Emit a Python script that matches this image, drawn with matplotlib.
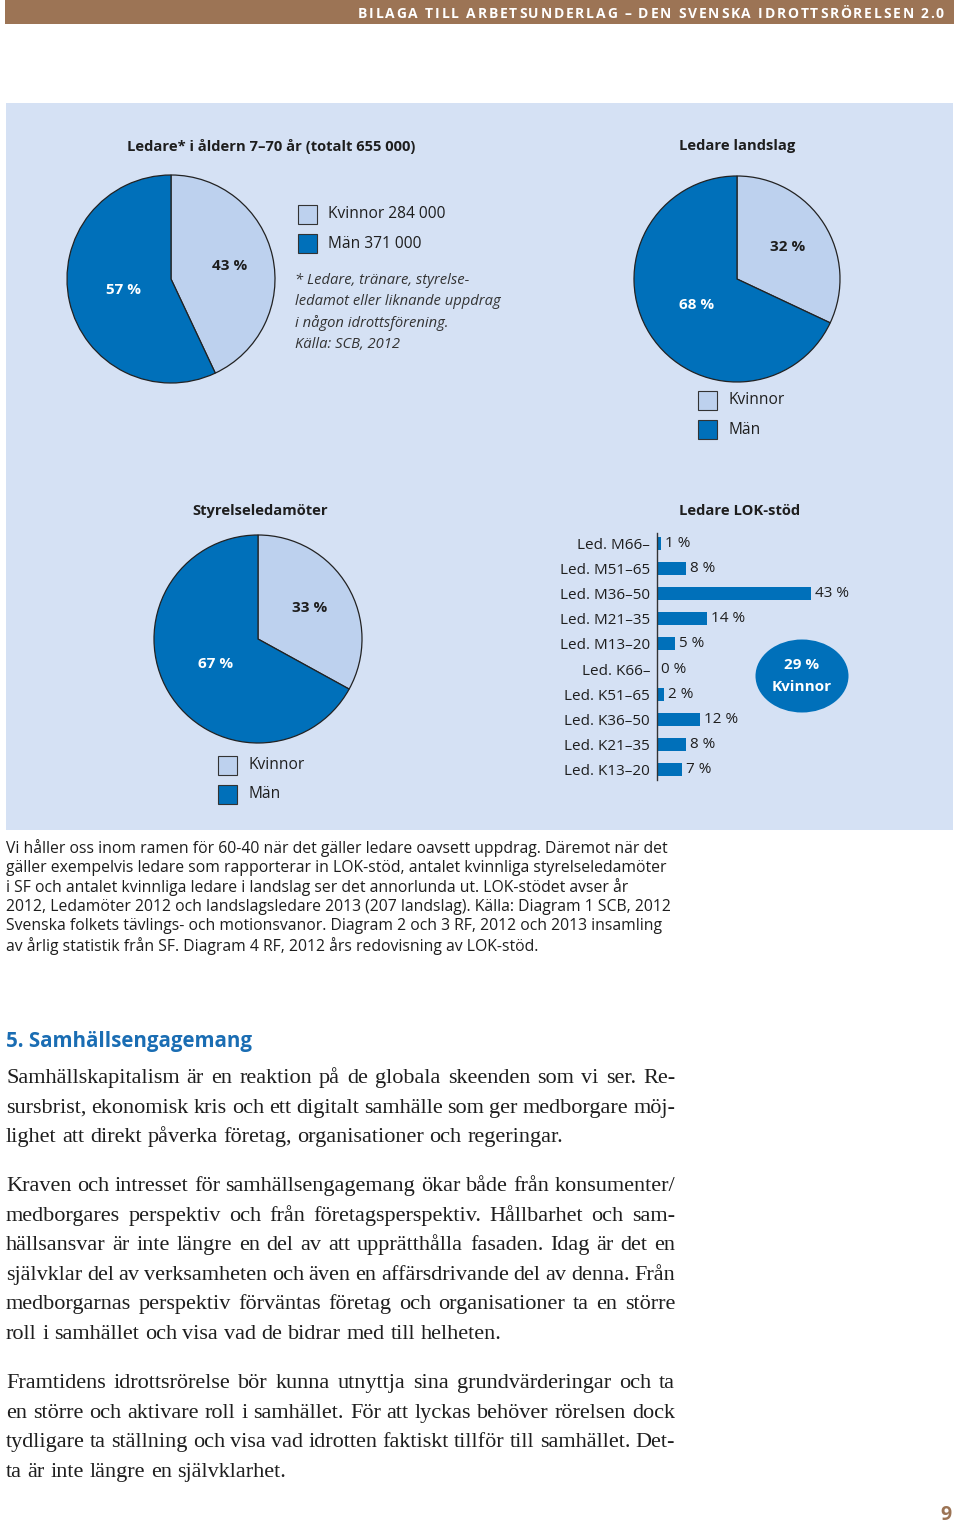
import matplotlib
matplotlib.use("Agg")
import matplotlib.pyplot as plt
from matplotlib.patches import Rectangle, Ellipse
import numpy as np

W, H = 960, 1526
DARK = "#0070BA"
LIGHT = "#BDD1EE"
PANEL = "#D5E1F4"
BROWN = "#9C7455"
INK = "#1e1e1e"
SANS = "Open Sans"
SERIF = "Liberation Serif"

# %%
# Data read from the page
# -----------------------

gender = ["Kvinnor", "Män"]
leaders_all = [43, 57]          # Ledare 7-70 år
leaders_all_counts = ["284 000", "371 000"]
leaders_national = [32, 68]     # Ledare landslag
board_members = [33, 67]        # Styrelseledamöter

lok_labels = ["Led. M66–", "Led. M51–65", "Led. M36–50", "Led. M21–35", "Led. M13–20",
              "Led. K66–", "Led. K51–65", "Led. K36–50", "Led. K21–35", "Led. K13–20"]
lok_values = [1, 8, 43, 14, 5, 0, 2, 12, 8, 7]

header = "BILAGA TILL ARBETSUNDERLAG – DEN SVENSKA IDROTTSRÖRELSEN 2.0"
note_lines = ["* Ledare, tränare, styrelse-", "ledamot eller liknande uppdrag",
              "i någon idrottsförening.", "Källa: SCB, 2012"]
caption_lines = [
    "Vi håller oss inom ramen för 60-40 när det gäller ledare oavsett uppdrag. Däremot när det",
    "gäller exempelvis ledare som rapporterar in LOK-stöd, antalet kvinnliga styrelseledamöter",
    "i SF och antalet kvinnliga ledare i landslag ser det annorlunda ut. LOK-stödet avser år",
    "2012, Ledamöter 2012 och landslagsledare 2013 (207 landslag). Källa: Diagram 1 SCB, 2012",
    "Svenska folkets tävlings- och motionsvanor. Diagram 2 och 3 RF, 2012 och 2013 insamling",
    "av årlig statistik från SF. Diagram 4 RF, 2012 års redovisning av LOK-stöd.",
]
heading = "5. Samhällsengagemang"
paragraphs = [
    ["Samhällskapitalism är en reaktion på de globala skeenden som vi ser. Re-",
     "sursbrist, ekonomisk kris och ett digitalt samhälle som ger medborgare möj-",
     "lighet att direkt påverka företag, organisationer och regeringar."],
    ["Kraven och intresset för samhällsengagemang ökar både från konsumenter/",
     "medborgares perspektiv och från företagsperspektiv. Hållbarhet och sam-",
     "hällsansvar är inte längre en del av att upprätthålla fasaden. Idag är det en",
     "självklar del av verksamheten och även en affärsdrivande del av denna. Från",
     "medborgarnas perspektiv förväntas företag och organisationer ta en större",
     "roll i samhället och visa vad de bidrar med till helheten."],
    ["Framtidens idrottsrörelse bör kunna utnyttja sina grundvärderingar och ta",
     "en större och aktivare roll i samhället. För att lyckas behöver rörelsen dock",
     "tydligare ta ställning och visa vad idrotten faktiskt tillför till samhället. Det-",
     "ta är inte längre en självklarhet."],
]

# %%
# Page canvas in pixel coordinates
# --------------------------------

fig = plt.figure(figsize=(W / 100, H / 100), dpi=100)
fig.patch.set_facecolor("white")
bg = fig.add_axes([0, 0, 1, 1])
bg.set_xlim(0, W)
bg.set_ylim(H, 0)
bg.axis("off")
renderer = fig.canvas.get_renderer()


def px_axes(x, y, w, h):
    return fig.add_axes([x / W, 1 - (y + h) / H, w / W, h / H], facecolor="none")


def text_width(t):
    return t.get_window_extent(renderer).width


# header bar with letter-spaced title
bg.add_patch(Rectangle((5, 0), 949, 24, color=BROWN, lw=0))
chars = [bg.text(0, 18, c, color="white", fontsize=10, fontweight="bold",
                 family=SANS, va="baseline", ha="left") for c in header]
widths = [text_width(c) if c.get_text() != " " else 3.5 for c in chars]
tracking = 1.8
x = 944 - (sum(widths) + tracking * (len(chars) - 1))
for c, w in zip(chars, widths):
    c.set_x(x)
    x += w + tracking

# blue panel
bg.add_patch(Rectangle((6, 103), 947, 727, color=PANEL, lw=0))


def draw_pie(values, cx, cy, r, title, title_x, title_y):
    ax = px_axes(cx - r, cy - r, 2 * r, 2 * r)
    wedges, _, autos = ax.pie(values, colors=[LIGHT, DARK], startangle=90, counterclock=False,
                              autopct=lambda p: f"{p:.0f} %", pctdistance=0.55,
                              wedgeprops=dict(edgecolor="#222222", linewidth=0.9),
                              textprops=dict(fontsize=11, fontweight="bold", family=SANS))
    for w, t, d, col in zip(wedges, autos, [0.58, 0.47], [INK, "white"]):
        ang = np.deg2rad((w.theta1 + w.theta2) / 2)
        t.set_position((d * np.cos(ang), d * np.sin(ang)))
        t.set_color(col)
        w.set_clip_on(False)
    ax.set_xlim(-1, 1)
    ax.set_ylim(-1, 1)
    bg.text(title_x, title_y, title, fontsize=10.6, fontweight="bold", family=SANS,
            color=INK, ha="center", va="center")


def draw_legend(x, y, labels):
    for i, (lab, col) in enumerate(zip(labels, [LIGHT, DARK])):
        yy = y + i * 29.5
        bg.add_patch(Rectangle((x, yy - 9.5), 19, 19, facecolor=col, edgecolor="#333333", lw=0.8))
        bg.text(x + 30, yy, lab, fontsize=11.2, family=SANS, color=INK, va="center", ha="left")


draw_pie(leaders_all, 171, 279, 104, "Ledare* i åldern 7–70 år (totalt 655 000)", 271, 146)
draw_legend(298, 214, [f"{g} {n}" for g, n in zip(gender, leaders_all_counts)])
for i, line in enumerate(note_lines):
    bg.text(295, 280 + i * 21.5, line, fontsize=10.6, style="italic", family=SANS,
            color="#333333", va="center", ha="left")

draw_pie(leaders_national, 737, 279, 103, "Ledare landslag", 737, 146)
draw_legend(698, 400, gender)

draw_pie(board_members, 258, 639, 104, "Styrelseledamöter", 260, 511)
draw_legend(218, 765, gender)

# LOK-stöd bar chart
bg.text(740, 511, "Ledare LOK-stöd", fontsize=10.6, fontweight="bold", family=SANS,
        color=INK, ha="center", va="center")
axb = px_axes(657, 533, 200, 247)
ypos = np.arange(len(lok_values))
bars = axb.barh(ypos, lok_values, height=0.52, color=DARK)
axb.set_ylim(len(lok_values) - 0.6, -0.4)
axb.set_xlim(0, 200 / 3.58)
axb.set_yticks(ypos, lok_labels)
axb.set_xticks([])
axb.tick_params(axis="y", length=0, pad=5, labelsize=11, labelcolor=INK)
for lab in axb.get_yticklabels():
    lab.set_family(SANS)
for s in ["top", "right", "bottom"]:
    axb.spines[s].set_visible(False)
axb.spines["left"].set_color("#333333")
axb.spines["left"].set_linewidth(1.0)
axb.bar_label(bars, fmt="{:.0f} %", padding=3, fontsize=11, color=INK, family=SANS)

women_share = sum(v for lab, v in zip(lok_labels, lok_values) if " K" in lab)
bg.add_patch(Ellipse((802, 676), 93, 73, color=DARK, lw=0))
bg.text(802, 665, f"{women_share} %", fontsize=11, fontweight="bold", family=SANS,
        color="white", ha="center", va="center")
bg.text(802, 687, "Kvinnor", fontsize=11, fontweight="bold", family=SANS,
        color="white", ha="center", va="center")

# caption below the panel
for i, line in enumerate(caption_lines):
    bg.text(6, 848 + i * 19.6, line, fontsize=11.3, family=SANS, color=INK,
            va="center", ha="left")

bg.text(6, 1041, heading, fontsize=14.8, fontweight="bold", family=SANS,
        color="#1A6DB3", va="center", ha="left")


def justified(lines, x0, x1, y0, dy, **kw):
    probe = [bg.text(0, 0, s, **kw) for s in ("x x", "xx")]
    space = text_width(probe[0]) - text_width(probe[1])
    for p in probe:
        p.remove()
    for i, line in enumerate(lines):
        words = line.split()
        y = y0 + i * dy
        items = [bg.text(0, y, w, va="baseline", ha="left", **kw) for w in words]
        ws = [text_width(t) for t in items]
        last = i == len(lines) - 1
        gap = space if last or len(words) < 2 else (x1 - x0 - sum(ws)) / (len(words) - 1)
        x = x0
        for t, w in zip(items, ws):
            t.set_x(x)
            x += w + gap


starts = [1077, 1185, 1382]
for para, y0 in zip(paragraphs, starts):
    justified(para, 6, 675, y0 + 6, 29.6, fontsize=16, family=SERIF, color=INK)

bg.text(946, 1515, "9", fontsize=14, fontweight="bold", family=SANS, color=BROWN,
        ha="center", va="center")

fig.savefig("out.png", dpi=100, facecolor="white")
